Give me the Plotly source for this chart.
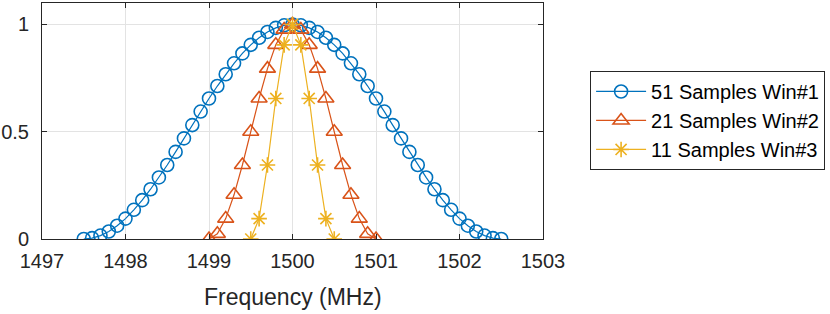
import plotly.graph_objects as go

freq51 = [1497.5, 1497.6, 1497.7, 1497.8, 1497.9, 1498.0, 1498.1, 1498.2, 1498.3, 1498.4,
          1498.5, 1498.6, 1498.7, 1498.8, 1498.9, 1499.0, 1499.1, 1499.2, 1499.3, 1499.4,
          1499.5, 1499.6, 1499.7, 1499.8, 1499.9, 1500.0, 1500.1, 1500.2, 1500.3, 1500.4,
          1500.5, 1500.6, 1500.7, 1500.8, 1500.9, 1501.0, 1501.1, 1501.2, 1501.3, 1501.4,
          1501.5, 1501.6, 1501.7, 1501.8, 1501.9, 1502.0, 1502.1, 1502.2, 1502.3, 1502.4,
          1502.5]
win51 = [0.0, 0.004, 0.016, 0.035, 0.062, 0.095, 0.136, 0.181, 0.232, 0.287,
         0.345, 0.406, 0.469, 0.531, 0.594, 0.655, 0.713, 0.768, 0.819, 0.865,
         0.905, 0.938, 0.965, 0.984, 0.996, 1.0, 0.996, 0.984, 0.965, 0.938,
         0.905, 0.865, 0.819, 0.768, 0.713, 0.655, 0.594, 0.531, 0.469, 0.406,
         0.345, 0.287, 0.232, 0.181, 0.136, 0.095, 0.062, 0.035, 0.016, 0.004,
         0.0]

freq21 = [1499.0, 1499.1, 1499.2, 1499.3, 1499.4, 1499.5, 1499.6, 1499.7, 1499.8, 1499.9,
          1500.0, 1500.1, 1500.2, 1500.3, 1500.4, 1500.5, 1500.6, 1500.7, 1500.8, 1500.9,
          1501.0]
win21 = [0.0, 0.024, 0.095, 0.206, 0.345, 0.5, 0.655, 0.794, 0.905, 0.976,
         1.0, 0.976, 0.905, 0.794, 0.655, 0.5, 0.345, 0.206, 0.095, 0.024,
         0.0]

freq11 = [1499.5, 1499.6, 1499.7, 1499.8, 1499.9, 1500.0, 1500.1, 1500.2, 1500.3, 1500.4,
          1500.5]
win11 = [0.0, 0.095, 0.345, 0.655, 0.905, 1.0, 0.905, 0.655, 0.345, 0.095, 0.0]

names = ["51 Samples Win#1", "21 Samples Win#2", "11 Samples Win#3"]
x_ticks = [1497, 1498, 1499, 1500, 1501, 1502, 1503]
y_ticks = [0, 0.5, 1]
y_tick_text = ["0", "0.5", "1"]
x_label = "Frequency (MHz)"

FONT = "Liberation Sans, Arial, Helvetica, sans-serif"
TXT = "#262626"

fig = go.Figure()
fig.add_trace(go.Scatter(
    x=freq51, y=win51, name=names[0], mode="lines+markers",
    line=dict(color="#0072BD", width=1.2),
    marker=dict(symbol="circle-open", size=13, color="#0072BD",
                line=dict(width=1.6, color="#0072BD")),
))
fig.add_trace(go.Scatter(
    x=freq21, y=win21, name=names[1], mode="lines+markers",
    line=dict(color="#D95319", width=1.2),
    marker=dict(symbol="triangle-up-open", size=14, color="#D95319",
                line=dict(width=1.6, color="#D95319")),
))
fig.add_trace(go.Scatter(
    x=freq11, y=win11, name=names[2], mode="lines+markers",
    line=dict(color="#EDB120", width=1.2),
    marker=dict(symbol="asterisk-open", size=13, color="#EDB120",
                line=dict(width=1.6, color="#EDB120")),
))

axis_common = dict(
    showline=True, linecolor=TXT, linewidth=1, mirror="ticks",
    ticks="inside", ticklen=5, tickcolor=TXT,
    showgrid=True, gridcolor="#e3e3e3", gridwidth=1,
    zeroline=False, automargin=False,
    tickfont=dict(family=FONT, size=20, color=TXT),
)

fig.update_layout(
    width=830, height=314,
    margin=dict(l=42, r=287, t=3, b=75),
    plot_bgcolor="white", paper_bgcolor="white",
    font=dict(family=FONT, color=TXT),
    xaxis=dict(range=[1497, 1503], tickvals=x_ticks, ticklabelstandoff=4, **axis_common),
    yaxis=dict(range=[0, 1.1], tickvals=y_ticks, ticktext=y_tick_text,
               ticklabelstandoff=8, **axis_common),
    legend=dict(x=1.094, y=0.712, xanchor="left", yanchor="top",
                bgcolor="white", bordercolor="#262626", borderwidth=1,
                font=dict(family=FONT, size=20, color="black"),
                itemwidth=50, tracegroupgap=0),
    showlegend=True,
    annotations=[dict(text=x_label, xref="paper", yref="paper", x=0.5, y=0,
                      xanchor="center", yanchor="middle", yshift=-58, showarrow=False,
                      font=dict(family=FONT, size=23, color=TXT))],
)

fig.write_html("out.html", config={"displayModeBar": False},
               post_script="document.body.style.margin='0';document.body.style.overflow='hidden';")
